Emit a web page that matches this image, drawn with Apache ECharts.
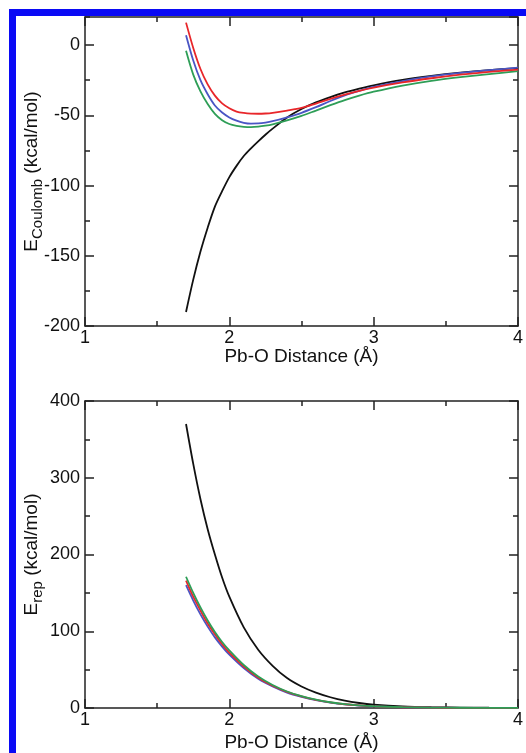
<!DOCTYPE html>
<html>
<head>
<meta charset="utf-8">
<script src="https://cdn.jsdelivr.net/npm/echarts@6/dist/echarts.min.js"></script>
<style>
html,body{margin:0;padding:0;background:#fff;}
#c{width:526px;height:753px;}
</style>
</head>
<body>
<div id="c"></div>
<script>
// ---- Data ----
const xTop = [1.7,1.75,1.8,1.85,1.9,1.95,2.0,2.05,2.1,2.15,2.2,2.25,2.3,2.4,2.5,2.6,2.7,2.8,2.9,3.0,3.2,3.4,3.6,3.8,4.0];
const coulBlack = [-190,-167,-147,-130,-115,-104,-94,-86,-79,-73.5,-68.5,-63.8,-59.5,-51.5,-45.5,-40.8,-37,-33.7,-31,-28.6,-24.8,-21.9,-19.6,-17.8,-16.4];
const coulRed   = [16,-2,-17,-28,-36,-41.5,-45,-47.3,-48.3,-48.8,-48.9,-48.7,-48.2,-46.6,-44.7,-41.6,-38.3,-35.3,-32.6,-30.3,-26.6,-23.6,-21.1,-19.1,-17.5];
const coulBlue  = [7,-11,-25,-35,-43,-48,-51.5,-53.8,-55.3,-55.9,-55.8,-55.2,-54.2,-51.4,-48.2,-44.2,-39.8,-35.8,-32.6,-29.8,-25.6,-22.3,-19.8,-17.8,-16.1];
const coulGreen = [-4,-21,-33,-42,-49,-53.5,-56.2,-57.5,-58.2,-58.4,-58.1,-57.4,-56.4,-53.6,-50.4,-46.6,-42.8,-39.2,-36,-33.2,-28.8,-25.4,-22.8,-20.6,-18.6];

const xBot = [1.7,1.75,1.8,1.85,1.9,1.95,2.0,2.1,2.2,2.3,2.4,2.5,2.6,2.7,2.8,2.9,3.0,3.2,3.4,3.6,3.8,4.0];
const repBlack = [370,318,272,233,200,170,145,105,76,55,39,28,20,14,9.5,6.5,4.5,2.2,1.1,0.6,0.3,0.2];
const repGreen = [171,150,131,114,99,86,75,56,41,30,21.5,15.5,11,7.5,5,3.4,2.3,1.1,0.5,0.3,0.15,0.1];
const repRed   = [166,145,127,110,96,83,72,54,39.5,29,21,15,10.6,7.3,4.9,3.3,2.2,1.0,0.5,0.25,0.12,0.08];
const repBlue  = [160,140,122,106,92,80,69.5,52,38,28,20,14.5,10.2,7,4.7,3.2,2.1,1.0,0.5,0.25,0.12,0.08];

const xTitle = 'Pb-O Distance (Å)';
const yTitleTop = '{e|E}{sub|Coulomb}{e| (kcal/mol)}';
const yTitleBot = '{e|E}{sub|rep}{e| (kcal/mol)}';

// ---- Styles ----
const FONT = '"Liberation Sans", Arial, Helvetica, sans-serif';
const FS = 18;   // tick labels
const TFS = 19;  // axis titles
const AX = '#222';
const C = {black:'#111111', red:'#e8262a', blue:'#4a55c4', green:'#2e9e57'};
const pair = (xs, ys) => xs.map((x,i)=>[x, ys[i]]);

function xAxisDef(grid, pos, labels, gap){
  return {
    type:'value', gridIndex:grid, position:pos, min:1, max:4, interval:1,
    axisLine:{show:true, onZero:false, lineStyle:{color:AX, width:1.5}},
    axisTick:{show:true, inside:true, length:9, lineStyle:{color:AX, width:1.5}},
    minorTick:{show:true, splitNumber:2, length:5, lineStyle:{color:AX, width:1.5}},
    splitLine:{show:false},
    axisLabel:{show:labels, color:'#111', fontSize:FS, fontFamily:FONT, margin:3},
    name: labels ? xTitle : '', nameLocation:'middle', nameGap:gap||21, nameMoveOverlap:false,
    nameTextStyle:{color:'#111', fontSize:TFS, fontFamily:FONT}
  };
}
function yAxisDef(grid, pos, min, max, interval, opts){
  const o = Object.assign({labels:false, tickLen:9, line:true, minor:false, name:'', showMax:true}, opts||{});
  return {
    type:'value', gridIndex:grid, position:pos, min:min, max:max, interval:interval,
    axisLine:{show:o.line, onZero:false, lineStyle:{color:AX, width:1.5}},
    axisTick:{show:true, inside:true, length:o.tickLen, lineStyle:{color:AX, width:1.5}},
    minorTick:{show:o.minor, splitNumber:2, length:5, lineStyle:{color:AX, width:1.5}},
    splitLine:{show:false},
    axisLabel:{show:o.labels, color:'#111', fontSize:FS, fontFamily:FONT, margin:5, showMaxLabel:o.showMax},
    name:o.name, nameLocation:'middle', nameRotate:90, nameGap:40, nameMoveOverlap:false,
    nameTextStyle:{color:'#111', fontSize:TFS, fontFamily:FONT,
      rich:{
        e:{fontSize:TFS, lineHeight:26, fontFamily:FONT, color:'#111'},
        sub:{fontSize:15, lineHeight:12, verticalAlign:'bottom', fontFamily:FONT, color:'#111'}
      }}
  };
}
function line(xi, yi, xs, ys, color){
  return {type:'line', xAxisIndex:xi, yAxisIndex:yi, data:pair(xs, ys), showSymbol:false, symbol:'none',
    smooth:0.3, lineStyle:{color:color, width:1.8}, itemStyle:{color:color}, z:3, silent:true};
}

const chart = echarts.init(document.getElementById('c'), null, {renderer:'canvas'});
chart.setOption({
  backgroundColor:'#ffffff',
  animation:false,
  grid:[
    {left:85, top:17, width:435, height:309},
    {left:85, top:401, width:435, height:307}
  ],
  xAxis:[
    xAxisDef(0,'bottom',true,21),
    xAxisDef(0,'top',false),
    xAxisDef(1,'bottom',true,25),
    xAxisDef(1,'top',false)
  ],
  yAxis:[
    yAxisDef(0,'left',-200,20,50,{labels:true, name:yTitleTop, showMax:false}),
    yAxisDef(0,'left',-200,20,25,{tickLen:5, line:false}),
    yAxisDef(0,'right',-200,20,50,{}),
    yAxisDef(0,'right',-200,20,25,{tickLen:5, line:false}),
    yAxisDef(1,'left',0,400,100,{labels:true, minor:true, name:yTitleBot}),
    yAxisDef(1,'right',0,400,100,{minor:true})
  ],
  series:[
    line(0,0,xTop,coulBlack,C.black),
    line(0,0,xTop,coulGreen,C.green),
    line(0,0,xTop,coulBlue,C.blue),
    line(0,0,xTop,coulRed,C.red),
    line(2,4,xBot,repBlack,C.black),
    line(2,4,xBot,repBlue,C.blue),
    line(2,4,xBot,repRed,C.red),
    line(2,4,xBot,repGreen,C.green)
  ],
  graphic:[
    {type:'rect', shape:{x:9, y:9, width:517, height:7}, style:{fill:'#0a0af5'}, silent:true},
    {type:'rect', shape:{x:9, y:9, width:7, height:744}, style:{fill:'#0a0af5'}, silent:true}
  ]
});
</script>
</body>
</html>
